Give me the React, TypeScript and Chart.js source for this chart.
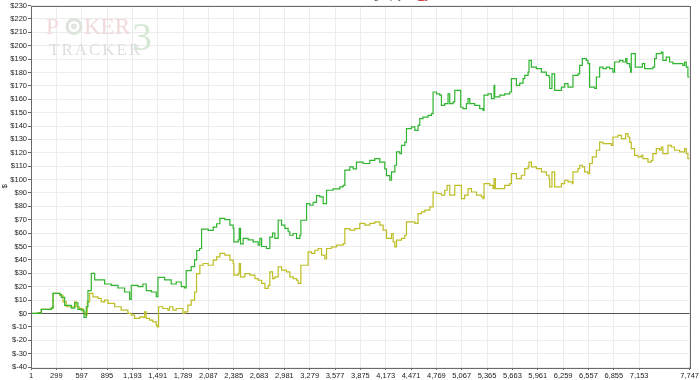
import React, { useEffect, useRef } from 'react';
import { Chart, registerables } from 'chart.js';

Chart.register(...registerables);

// Hand numbers / winnings ($)
const greenHands = [1, 83, 122, 240, 260, 342, 357, 397, 475, 515, 553, 592, 624, 651, 671, 710, 750, 808, 867, 945, 1024, 1102, 1161, 1180, 1259, 1317, 1356, 1415, 1474, 1494, 1573, 1650, 1709, 1768, 1808, 1826, 1885, 1925, 1950, 1984, 2007, 2085, 2144, 2184, 2222, 2281, 2340, 2379, 2387, 2438, 2450, 2465, 2496, 2555, 2614, 2673, 2693, 2713, 2771, 2810, 2842, 2869, 2908, 2948, 2987, 3025, 3045, 3084, 3124, 3163, 3175, 3222, 3242, 3280, 3319, 3359, 3398, 3437, 3477, 3554, 3633, 3672, 3692, 3751, 3790, 3829, 3907, 3986, 4044, 4103, 4162, 4182, 4221, 4241, 4280, 4300, 4338, 4358, 4397, 4417, 4476, 4515, 4553, 4573, 4612, 4671, 4711, 4730, 4770, 4808, 4828, 4867, 4906, 4926, 4965, 4985, 5043, 5055, 5082, 5122, 5141, 5161, 5220, 5278, 5317, 5329, 5376, 5416, 5447, 5455, 5514, 5572, 5631, 5651, 5690, 5710, 5749, 5788, 5808, 5847, 5858, 5886, 5945, 6004, 6062, 6093, 6101, 6128, 6150, 6160, 6199, 6239, 6278, 6317, 6368, 6375, 6434, 6454, 6485, 6532, 6551, 6571, 6603, 6630, 6650, 6689, 6728, 6768, 6806, 6845, 6865, 6924, 6963, 6995, 7010, 7042, 7053, 7061, 7092, 7108, 7159, 7191, 7218, 7277, 7315, 7335, 7355, 7394, 7414, 7433, 7472, 7511, 7551, 7609, 7668, 7688, 7708, 7727, 7747];
const greenValues = [0, 0.5, 3, 4, 15, 14, 12, 6, 4, 8, 3, 2.5, -3, 5, 17, 30, 25, 25, 22, 21, 19, 16, 10.5, 21, 20, 22, 17, 16, 12.5, 27, 25, 22, 23.5, 20, 19, 32, 35, 40, 47, 48.5, 63, 62, 64.5, 67, 71, 70, 66, 63.5, 53.5, 55, 63.5, 52, 56, 55, 53.5, 51, 56, 50, 48.5, 57, 60, 56, 69.6, 66, 63.5, 61, 58.4, 59.7, 56, 58.4, 69.6, 69.6, 82, 80.8, 83, 88, 87, 82, 92, 93, 94.5, 95.7, 107, 109.4, 108, 113, 112, 114.4, 115.7, 113, 108, 103, 99.5, 105.7, 110.7, 120.6, 119.4, 125.6, 128, 138, 139.3, 136.8, 140.5, 145.5, 146.7, 148, 149.3, 165.4, 164, 163, 155.4, 156.7, 164, 156.7, 158, 166.6, 166.6, 154, 153, 156.7, 160.4, 156.7, 155.4, 153, 151.7, 163, 164, 160.4, 170.4, 161.7, 163, 164, 165.4, 175.4, 175.4, 170.4, 172, 175.4, 177.8, 180.3, 189, 184, 182.8, 180.3, 177.8, 176.6, 168, 179, 179, 166.6, 166.6, 169, 171.6, 169, 169, 177.8, 179, 185.3, 190.3, 189, 186.6, 169, 169, 168, 176.6, 184, 182.8, 184, 182.8, 180.3, 187.8, 189, 187.8, 190.3, 186.6, 184, 180.3, 194, 194, 184, 184, 186.6, 182.8, 182.8, 184, 190.3, 194, 194, 195.2, 189, 191.5, 187.8, 186.6, 186.6, 185.3, 187.8, 184, 176.6, 176.6];

const yellowHands = [1, 83, 122, 240, 260, 338, 377, 416, 475, 515, 533, 573, 612, 632, 663, 691, 730, 788, 827, 867, 906, 985, 1062, 1141, 1180, 1220, 1279, 1317, 1337, 1356, 1396, 1435, 1474, 1485, 1502, 1552, 1611, 1631, 1670, 1709, 1749, 1788, 1808, 1846, 1885, 1925, 1948, 1987, 2026, 2085, 2144, 2184, 2222, 2281, 2340, 2379, 2387, 2438, 2450, 2465, 2517, 2575, 2634, 2673, 2713, 2752, 2791, 2810, 2842, 2869, 2908, 2948, 3006, 3045, 3084, 3124, 3143, 3175, 3222, 3260, 3300, 3339, 3378, 3418, 3457, 3477, 3535, 3594, 3672, 3692, 3751, 3809, 3868, 3927, 3986, 4044, 4103, 4142, 4182, 4241, 4260, 4280, 4300, 4358, 4397, 4417, 4476, 4515, 4553, 4593, 4632, 4691, 4730, 4770, 4828, 4867, 4895, 4926, 4965, 4985, 5043, 5063, 5102, 5141, 5181, 5240, 5298, 5317, 5329, 5396, 5435, 5447, 5463, 5514, 5572, 5631, 5651, 5690, 5710, 5768, 5808, 5847, 5858, 5886, 5945, 6004, 6062, 6093, 6101, 6128, 6150, 6160, 6199, 6239, 6278, 6317, 6368, 6375, 6434, 6454, 6485, 6512, 6551, 6571, 6603, 6650, 6689, 6728, 6787, 6826, 6845, 6904, 6944, 6995, 7022, 7042, 7061, 7100, 7140, 7179, 7198, 7257, 7296, 7315, 7355, 7394, 7414, 7433, 7492, 7531, 7570, 7629, 7688, 7708, 7727, 7747];
const yellowValues = [0, 0.5, 3, 4, 15, 13.6, 8.7, 5, 5, 8.7, 5, 3.7, 1.2, -1, 8.7, 15, 12.4, 11.2, 8.7, 10, 7.5, 5, 2.5, 0, -1.3, -3.7, -2.5, -3, 1.2, -3.7, -5, -6.3, -8.7, -10, 5, 3.7, 2.5, 5, 2.5, 3.7, 3.7, 0, 1.2, 6.2, 10, 16, 29.8, 36, 37.3, 36, 39.8, 42.2, 44.8, 43.5, 39.8, 37.3, 28.6, 29.8, 37.3, 27.3, 29.8, 28.6, 26, 24.8, 22.4, 18.7, 21, 31, 26, 27.3, 34.8, 32.3, 31, 27.3, 26, 24.8, 22.4, 36, 36, 46, 44.8, 47.2, 48.5, 43.5, 41, 48.5, 49.7, 51, 52.2, 63.4, 62.2, 63.4, 67.2, 66, 67.2, 68.4, 66, 62.2, 56, 59.7, 53.4, 49.7, 54.7, 56, 58.4, 68.4, 68.4, 67.2, 74.6, 75.8, 77.1, 79.6, 90.7, 89.6, 88.3, 92, 95.7, 88.3, 88.3, 95.7, 95.7, 85.8, 88.3, 93.3, 90.7, 88.3, 87, 85.8, 97, 95.7, 93.3, 100.7, 93.3, 93.3, 95.7, 97, 104.5, 104.5, 100.7, 103.2, 108.2, 109.4, 113, 109.4, 108.2, 105.7, 103.2, 100.7, 94.5, 105.7, 105.7, 94.5, 94.5, 97, 99.5, 98.2, 97, 105.7, 108.2, 110.7, 109.4, 105.7, 104.5, 112, 116.9, 121.9, 128, 126.9, 126.9, 125.6, 131.8, 133, 130.6, 134.3, 131.8, 128, 123.1, 118.1, 116.9, 118.1, 115.7, 113, 114.4, 119.4, 123.1, 121.9, 124.3, 119.4, 125.6, 124.3, 121.9, 120.6, 123.1, 119.4, 115.7, 115.7];

const xTickValues = [1, 299, 597, 895, 1193, 1491, 1789, 2087, 2385, 2683, 2981, 3279, 3577, 3875, 4173, 4471, 4769, 5067, 5365, 5663, 5961, 6259, 6557, 6855, 7153, 7747];
const yMin = -40;
const yMax = 230;
const yStep = 10;
const yAxisTitle = '$';

const toPoints = (xs: number[], ys: number[]) => xs.map((x, i) => ({ x, y: ys[i] }));

const decorPlugin = {
  id: 'decor',
  beforeDatasetsDraw(chart: any) {
    const ctx = chart.ctx as CanvasRenderingContext2D;
    ctx.save();
    // watermark
    ctx.textBaseline = 'alphabetic';
    ctx.font = '23px "Liberation Serif"';
    ctx.fillStyle = 'rgb(242,218,218)';
    ctx.fillText('P', 46, 34);
    ctx.beginPath();
    ctx.arc(74, 26.5, 7, 0, Math.PI * 2);
    ctx.strokeStyle = 'rgb(220,228,220)';
    ctx.lineWidth = 3;
    ctx.stroke();
    ctx.fillStyle = 'rgb(225,232,225)';
    ctx.beginPath();
    ctx.arc(74, 26.5, 3, 0, Math.PI * 2);
    ctx.fill();
    ctx.fillStyle = 'rgb(242,218,218)';
    ctx.fillText('KER', 84, 34);
    ctx.font = '40px "Liberation Serif"';
    ctx.fillStyle = 'rgb(214,232,214)';
    ctx.fillText('3', 132, 50);
    ctx.font = '17px "Liberation Serif"';
    ctx.fillStyle = 'rgb(222,222,222)';
    (ctx as any).letterSpacing = '2px';
    ctx.fillText('TRACKER', 49, 55);
    ctx.restore();
  },
  afterDraw(chart: any) {
    const ctx = chart.ctx as CanvasRenderingContext2D;
    const a = chart.chartArea;
    ctx.save();
    ctx.strokeStyle = '#6a6a6a';
    ctx.lineWidth = 1;
    ctx.strokeRect(Math.round(a.left) + 0.5, Math.round(a.top) + 0.5, Math.round(a.right - a.left), Math.round(a.bottom - a.top));
    // clipped title fragments at the very top
    ctx.font = '11px "Liberation Sans"';
    ctx.textBaseline = 'alphabetic';
    ctx.fillStyle = '#555';
    ctx.fillText('Winnings (by day)', 340, -1);
    ctx.fillStyle = '#e00';
    ctx.fillText('(g)', 416, -1);
    ctx.restore();
  },
};

export default function App() {
  const ref = useRef<HTMLCanvasElement>(null);
  useEffect(() => {
    document.body.style.margin = '0';
    const canvas = ref.current!;
    const chart = new Chart(canvas, {
      type: 'line',
      data: {
        datasets: [
          {
            label: 'Won',
            data: toPoints(greenHands, greenValues),
            borderColor: '#2fb52f',
            borderWidth: 1.2,
            pointRadius: 0,
            stepped: true,
            fill: false,
          },
          {
            label: 'Won (all-in EV)',
            data: toPoints(yellowHands, yellowValues),
            borderColor: '#bdbd25',
            borderWidth: 1.2,
            pointRadius: 0,
            stepped: true,
            fill: false,
          },
        ],
      },
      options: {
        animation: false,
        responsive: false,
        events: [],
        layout: { padding: { top: 5, right: 10, left: 0, bottom: 0 } },
        plugins: { legend: { display: false }, tooltip: { enabled: false }, title: { display: false } },
        scales: {
          x: {
            type: 'linear',
            min: 1,
            max: 7747,
            afterBuildTicks: (scale: any) => {
              scale.ticks = xTickValues.map((v) => ({ value: v }));
            },
            afterFit: (scale: any) => {
              scale.height = 13;
            },
            ticks: {
              autoSkip: false,
              maxRotation: 0,
              padding: 1,
              color: '#222',
              font: { family: '"Liberation Sans"', size: 7.5 },
              callback: (v: any) => Number(v).toLocaleString('en-US'),
            },
            grid: { color: '#ececec', tickColor: '#666', tickLength: 3, lineWidth: 1 },
            border: { display: false },
          },
          y: {
            type: 'linear',
            min: yMin,
            max: yMax,
            afterFit: (scale: any) => {
              scale.width = 31;
            },
            ticks: {
              stepSize: yStep,
              autoSkip: false,
              padding: 1,
              color: '#222',
              font: { family: '"Liberation Sans"', size: 7.5 },
              callback: (v: any) => '$' + v,
            },
            title: { display: true, text: yAxisTitle, color: '#222', font: { family: '"Liberation Sans"', size: 8 }, padding: 0 },
            grid: {
              color: (c: any) => (c.tick && c.tick.value === 0 ? '#555' : '#ececec'),
              tickColor: '#666',
              tickLength: 3,
              lineWidth: 1,
            },
            border: { display: false },
          },
        },
      },
      plugins: [decorPlugin],
    });
    return () => chart.destroy();
  }, []);
  return (
    <div style={{ width: 700, height: 380 }}>
      <canvas ref={ref} width={700} height={380} style={{ display: 'block' }} />
    </div>
  );
}
